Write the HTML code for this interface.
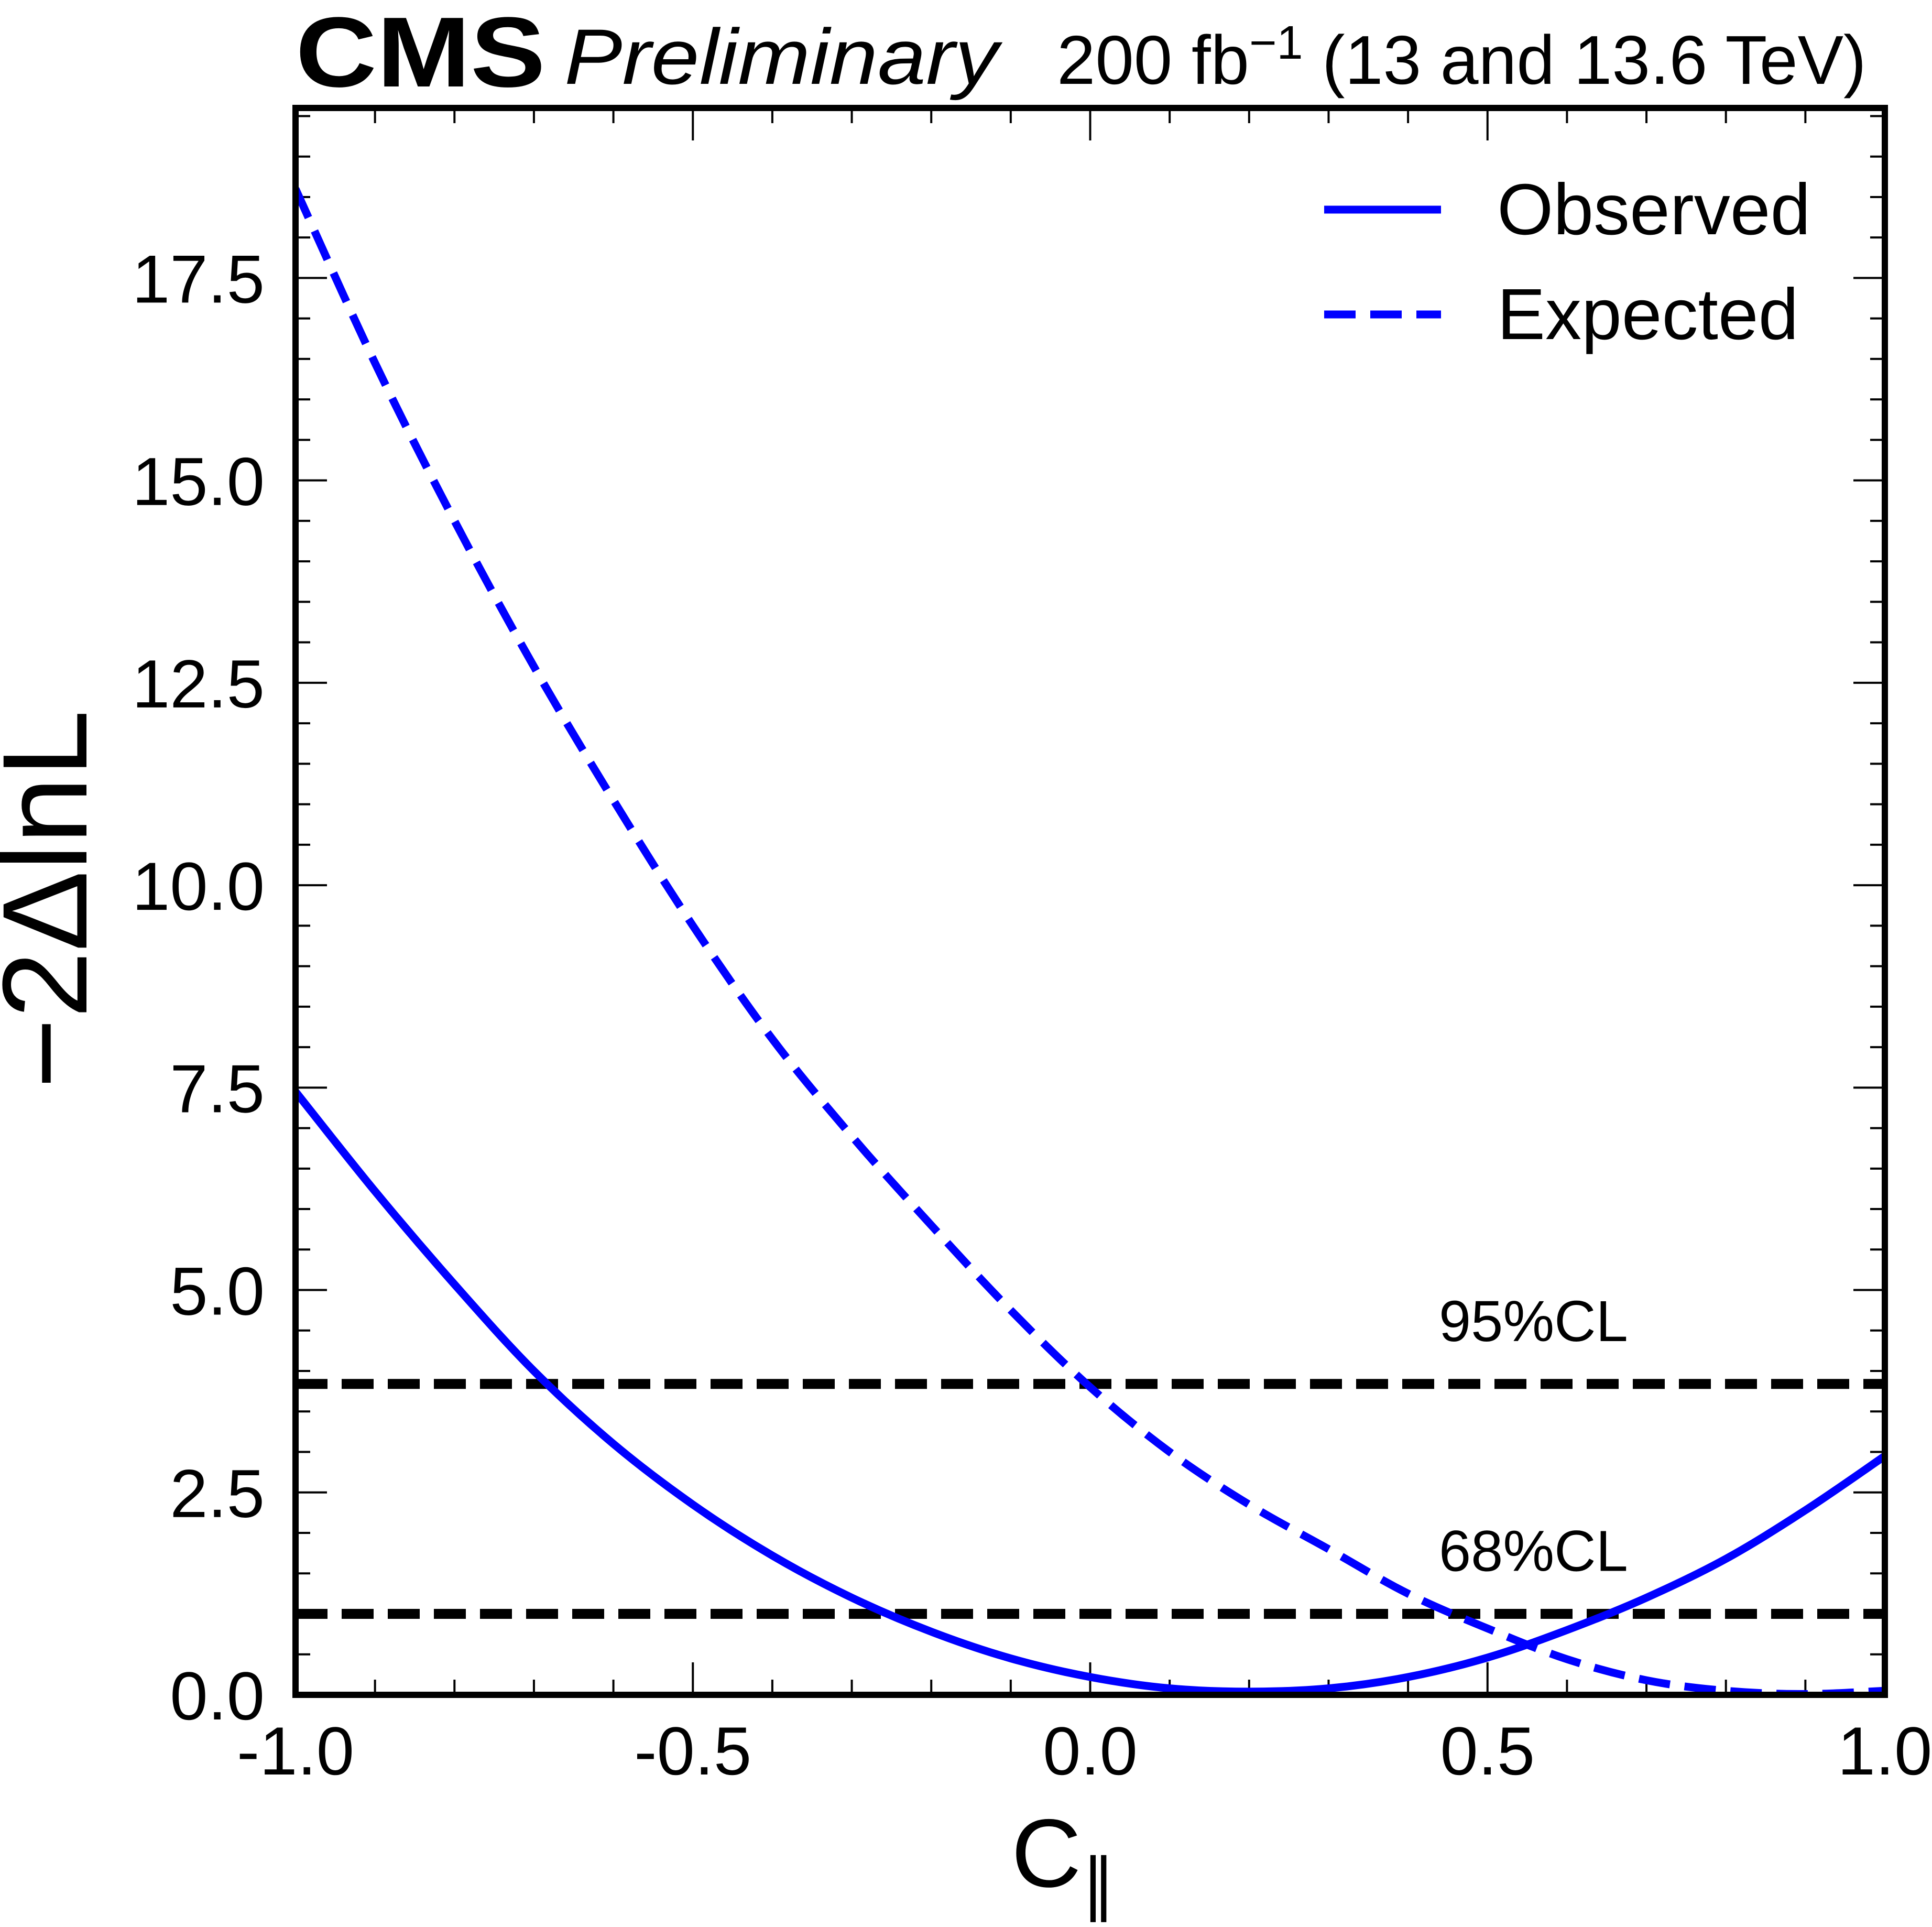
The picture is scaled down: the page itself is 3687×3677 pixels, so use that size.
<!DOCTYPE html>
<html><head><meta charset="utf-8"><style>
html,body{margin:0;padding:0;background:#fff}
svg{display:block}
text{font-family:"Liberation Sans",sans-serif;fill:#000}
</style></head><body>
<svg id="c" width="3687" height="3677" viewBox="0 0 3687 3677" xmlns="http://www.w3.org/2000/svg">
<g id="marks"></g>
<text x="564" y="165" font-size="190" font-weight="bold" textLength="477" lengthAdjust="spacingAndGlyphs">CMS</text>
<text x="1077" y="160" font-size="150" font-style="italic" textLength="828" lengthAdjust="spacingAndGlyphs">Preliminary</text>
<text x="2017" y="160" font-size="132">200 fb<tspan dy="-48" font-size="90">−1</tspan><tspan dy="48" textLength="1075" lengthAdjust="spacingAndGlyphs"> (13 and 13.6 TeV)</tspan></text>
<text transform="translate(165,1716) rotate(-90)" font-size="230" text-anchor="middle">−2ΔlnL</text>
<text x="1930" y="3600" font-size="185">C<tspan font-size="130" dy="40">∥</tspan></text>
<line x1="2527" y1="400" x2="2750" y2="400" stroke="#0000ff" stroke-width="15"/>
<text x="2857" y="447" font-size="138">Observed</text>
<line x1="2527" y1="600" x2="2750" y2="600" stroke="#0000ff" stroke-width="15" stroke-dasharray="60,28"/>
<text x="2857" y="647" font-size="138">Expected</text>
</svg>
<script>
const xVals=[-1,-0.9,-0.8,-0.7,-0.6,-0.5,-0.4,-0.3,-0.2,-0.1,0,0.1,0.2,0.3,0.4,0.5,0.6,0.7,0.8,0.9,1.0];
const observed=[7.45,6.22,5.07,4.0,3.1,2.35,1.72,1.2,0.78,0.45,0.22,0.08,0.04,0.08,0.22,0.46,0.8,1.2,1.68,2.28,2.95];
const expected=[18.6,16.45,14.5,12.7,11.05,9.5,8.1,6.9,5.8,4.75,3.8,3.0,2.35,1.8,1.25,0.82,0.44,0.18,0.05,0.01,0.05];
const clLevels=[3.84,1.0];
const clLabels=["95%CL","68%CL"];
const xTicks=[-1.0,-0.5,0.0,0.5,1.0];
const yTicks=[0,2.5,5,7.5,10,12.5,15,17.5];

const L=564,R=3597,T=206,B=3234,XMIN=-1,XMAX=1,YMIN=0,YMAX=19.6;
const sx=v=>L+(v-XMIN)/(XMAX-XMIN)*(R-L);
const sy=v=>B-(v-YMIN)/(YMAX-YMIN)*(B-T);
const NS="http://www.w3.org/2000/svg";
const g=document.getElementById('marks');
function mk(tag,attrs){const e=document.createElementNS(NS,tag);for(const k in attrs)e.setAttribute(k,attrs[k]);g.appendChild(e);return e;}

for(let i=0;i<=20;i++){const v=-1+i*0.1;const x=sx(v);const maj=(i%5===0);const len=maj?62:29;
  let t=mk('line',{x1:x,y1:B,x2:x,y2:B-len,stroke:'#000','stroke-width':4});
  
  
  t=mk('line',{x1:x,y1:T,x2:x,y2:T+len,stroke:'#000','stroke-width':4});
  
  }
for(let v=0;v<=19.5;v+=0.5){const y=sy(v);const maj=(Math.abs(v/2.5-Math.round(v/2.5))<1e-6);const len=maj?60:28;
  let t=mk('line',{x1:L,y1:y,x2:L+len,y2:y,stroke:'#000','stroke-width':4});
  
  
  t=mk('line',{x1:R,y1:y,x2:R-len,y2:y,stroke:'#000','stroke-width':4});
  
  }
xTicks.forEach(v=>{const t=mk('text',{x:sx(v),y:3386,'font-size':130,'text-anchor':'middle'});t.textContent=v.toFixed(1);
  
  });
yTicks.forEach(v=>{const t=mk('text',{x:505,y:sy(v)+47,'font-size':130,'text-anchor':'end'});t.textContent=v.toFixed(1);
  
  });

clLevels.forEach((v,i)=>{const l=mk('line',{x1:L,y1:sy(v),x2:R,y2:sy(v),stroke:'#000','stroke-width':19,'stroke-dasharray':'61,27'});
  
  
  const t=mk('text',{x:2746,y:sy(v)-82,'font-size':110});t.textContent=clLabels[i];
  
  });

function pathD(ys){const p=xVals.map((x,i)=>[sx(x),sy(ys[i])]);let d=`M${p[0][0]},${p[0][1]}`;
  for(let i=0;i<p.length-1;i++){const p0=p[Math.max(0,i-1)],p1=p[i],p2=p[i+1],p3=p[Math.min(p.length-1,i+2)];
    const c1=[p1[0]+(p2[0]-p0[0])/6,p1[1]+(p2[1]-p0[1])/6],c2=[p2[0]-(p3[0]-p1[0])/6,p2[1]-(p3[1]-p1[1])/6];
    d+=` C${c1[0]},${c1[1]} ${c2[0]},${c2[1]} ${p2[0]},${p2[1]}`;}return d;}
const clip=mk('clipPath',{id:'pc'});const cr=document.createElementNS(NS,'rect');
cr.setAttribute('x',L);cr.setAttribute('y',T);cr.setAttribute('width',R-L);cr.setAttribute('height',B-T);clip.appendChild(cr);
let e=mk('path',{d:pathD(expected),fill:'none',stroke:'#0000ff','stroke-width':15,'stroke-dasharray':'60,28','clip-path':'url(#pc)'});


let o=mk('path',{d:pathD(observed),fill:'none',stroke:'#0000ff','stroke-width':15,'clip-path':'url(#pc)'});



const f=mk('rect',{x:L,y:T,width:R-L,height:B-T,fill:'none',stroke:'#000','stroke-width':12});


</script>
</body></html>
